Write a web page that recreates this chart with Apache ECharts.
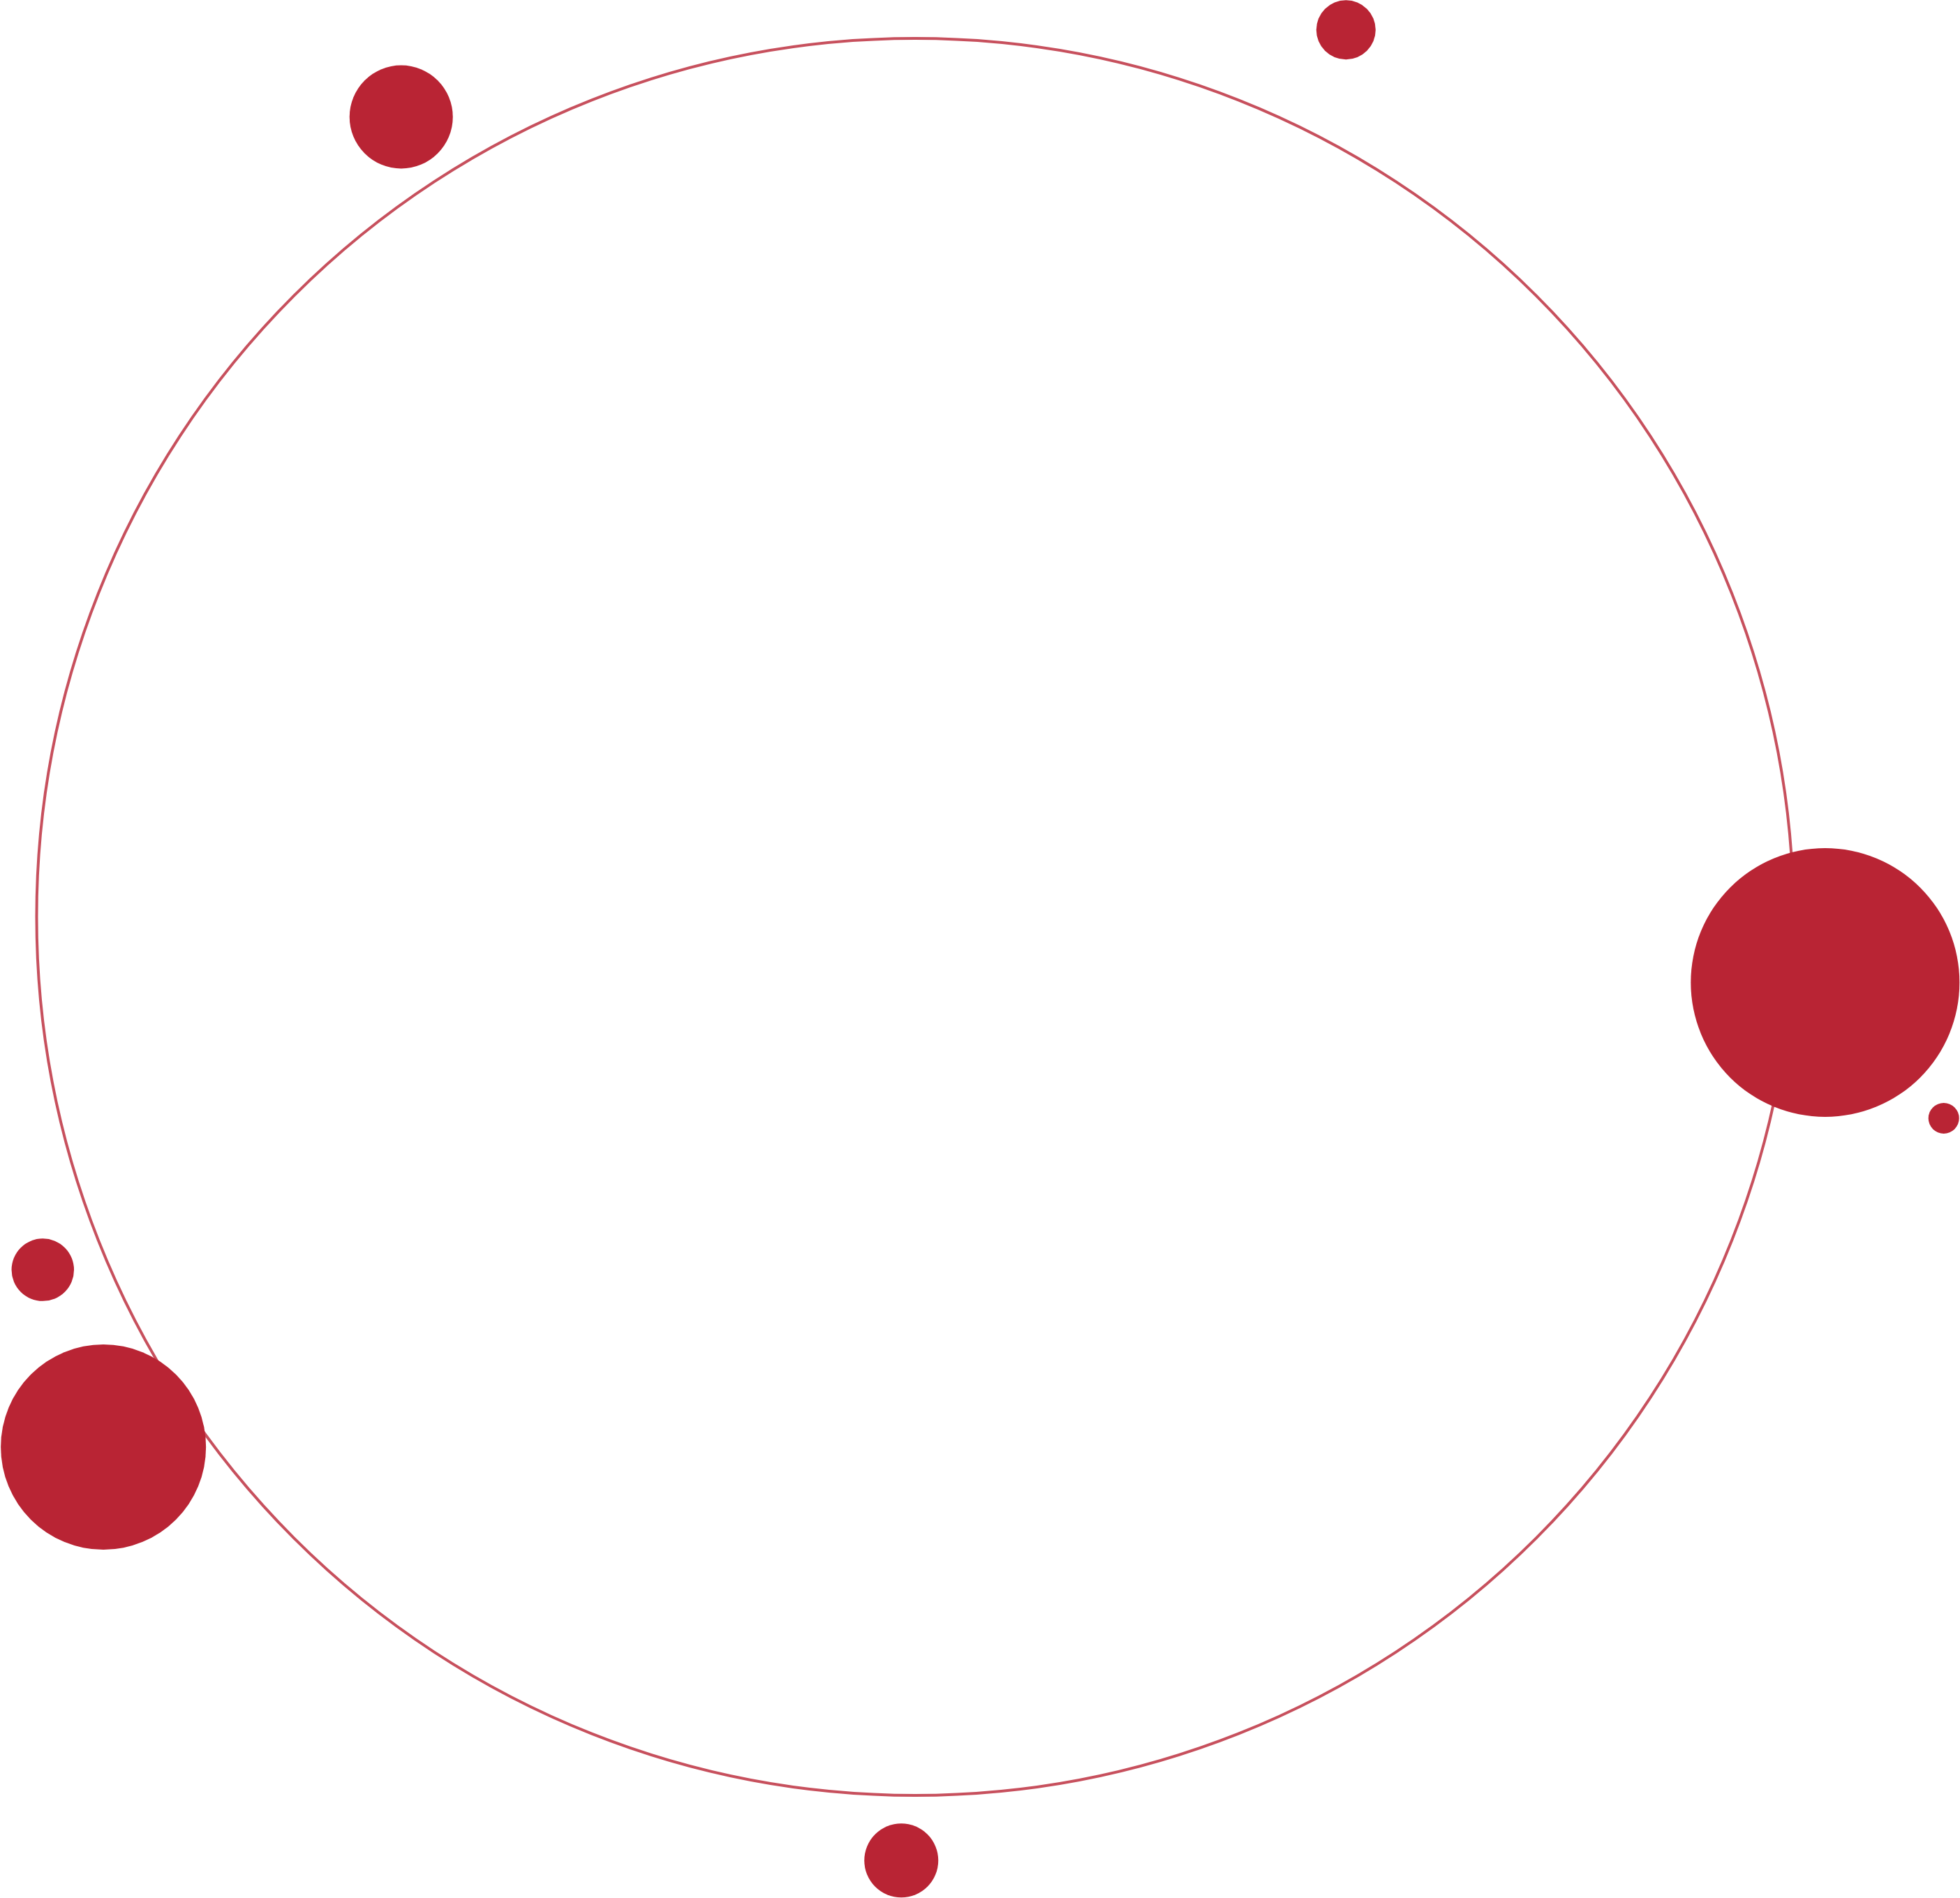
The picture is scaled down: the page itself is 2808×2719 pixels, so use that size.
<!DOCTYPE html>
<html>
<head>
<meta charset="utf-8">
<title>bubbles</title>
<script src="https://cdn.jsdelivr.net/npm/echarts@6/dist/echarts.min.js"></script>
<style>
    html, body { margin: 0; padding: 0; background: #fff; }
    #chart { width: 2808px; height: 2719px; }
</style>
</head>
<body>
<div id="chart"></div>
<script>
// positions in ring units: ring centre is (0,0), ring radius is 100
var dotX = [-58.5, 49.05, 103.6, 117.1, -99.3, -92.4, -1.57];
var dotY = [91.06, 100.97, -7.47, -22.92, -40.17, -60.35, -107.41];
// bubble diameters (px)
var dotSize = [148, 85, 385, 44, 89.5, 294, 106];
var ringRadius = 100;

var red = '#b92434';

var dots = [];
for (var i = 0; i < dotX.length; i++) {
    dots.push([dotX[i], dotY[i], dotSize[i]]);
}

var myChart = echarts.init(document.getElementById('chart'));
var option = {
    backgroundColor: '#ffffff',
    animation: false,
    grid: { left: 0, right: 0, top: 0, bottom: 0 },
    xAxis: {
        type: 'value',
        min: -104.17,
        max: 118.95,
        show: false
    },
    yAxis: {
        type: 'value',
        min: -111.68,
        max: 104.37,
        show: false
    },
    series: [{
        name: 'ring',
        type: 'scatter',
        silent: true,
        z: 1,
        data: [[0, 0, ringRadius]],
        // diameter of the ring in px, from the x scale (2808px over 223.12 units)
        symbolSize: function (val) {
            return val[2] * 2 * 2808 / (118.95 + 104.17);
        },
        itemStyle: {
            color: 'rgba(0,0,0,0)',
            borderColor: red,
            borderWidth: 4
        }
    }, {
        name: 'dots',
        type: 'scatter',
        silent: true,
        z: 2,
        data: dots,
        symbolSize: function (val) {
            return val[2];
        },
        itemStyle: {
            color: red,
            opacity: 1
        }
    }]
};
myChart.setOption(option);
</script>
</body>
</html>
